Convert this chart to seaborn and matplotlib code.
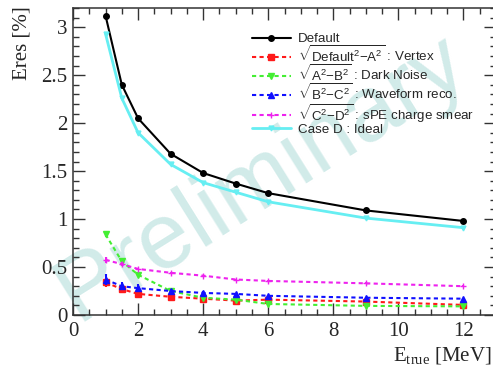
import matplotlib
matplotlib.use("Agg")
import matplotlib.pyplot as plt
import seaborn as sns
import numpy as np
from matplotlib.ticker import MultipleLocator

# ---- data ----
energy = [1, 1.5, 2, 3, 4, 5, 6, 9, 12]
default = [3.12, 2.40, 2.05, 1.68, 1.48, 1.37, 1.27, 1.09, 0.98]
vertex = [0.34, 0.27, 0.22, 0.19, 0.17, 0.15, 0.16, 0.14, 0.105]
vertex_err = [0.05, 0.04, 0.03, 0.02, 0.02, 0.02, 0.02, 0.02, 0.02]
dark = [0.84, 0.56, 0.42, 0.25, 0.18, 0.16, 0.115, 0.095, 0.09]
dark_err = [0.03, 0.02, 0.02, 0.02, 0.02, 0.02, 0.02, 0.02, 0.02]
wave = [0.37, 0.30, 0.28, 0.25, 0.23, 0.22, 0.20, 0.18, 0.17]
wave_err = [0.06, 0.04, 0.04, 0.02, 0.02, 0.01, 0.01, 0.01, 0.01]
spe = [0.575, 0.53, 0.48, 0.44, 0.41, 0.37, 0.355, 0.33, 0.30]
spe_err = [0.03, 0.02, 0.01, 0.01, 0.01, 0.01, 0.01, 0.01, 0.01]
ideal = [2.93, 2.26, 1.90, 1.57, 1.38, 1.28, 1.18, 1.01, 0.91]

labels = [
    "Default",
    r"$\sqrt{\mathrm{Default}^{2}\mathrm{-A}^{2}}$ : Vertex",
    r"$\sqrt{\mathrm{A}^{2}\mathrm{-B}^{2}}$ : Dark Noise",
    r"$\sqrt{\mathrm{B}^{2}\mathrm{-C}^{2}}$ : Waveform reco.",
    r"$\sqrt{\mathrm{C}^{2}\mathrm{-D}^{2}}$ : sPE charge smear",
    "Case D : Ideal",
]

sns.set_style("ticks")
plt.rcParams["font.family"] = ["Liberation Serif", "DejaVu Serif"]
plt.rcParams["mathtext.fontset"] = "custom"
plt.rcParams["mathtext.rm"] = "Liberation Sans"
plt.rcParams["mathtext.it"] = "Liberation Sans:italic"
plt.rcParams["mathtext.bf"] = "Liberation Sans:bold"

W, H = 493, 367
fig = plt.figure(figsize=(W / 100, H / 100), dpi=100)
ax = fig.add_axes([73 / W, 52 / H, 423 / W, 307 / H])

dotted = (0, (2.0, 1.6))
series = [
    (default, None, "black", "o", "-", 1.5, 4.0),
    (vertex, vertex_err, "#ff1a1a", "s", dotted, 1.5, 4.0),
    (dark, dark_err, "#44ee33", "v", dotted, 1.5, 4.0),
    (wave, wave_err, "#1010ff", "^", dotted, 1.5, 4.0),
    (spe, spe_err, "#ee22ee", "+", dotted, 1.5, 5.0),
    (ideal, None, "#66eef2", "v", "-", 2.0, 3.5),
]

for (vals, err, col, mk, ls, lw, ms), lab in zip(series, labels):
    sns.lineplot(x=energy, y=vals, ax=ax, color=col, marker=mk, linestyle=ls,
                 linewidth=lw, markersize=ms, markeredgecolor=col,
                 markeredgewidth=1.0, label=lab, zorder=3)
    if err is not None:
        ax.errorbar(energy, vals, yerr=err, fmt="none", ecolor=col,
                    elinewidth=1.5, capsize=0, zorder=3)

ax.set_xlim(0, 13)
ax.set_ylim(0, 3.2)
ax.xaxis.set_major_locator(MultipleLocator(2))
ax.xaxis.set_minor_locator(MultipleLocator(0.5))
ax.yaxis.set_major_locator(MultipleLocator(0.5))
ax.yaxis.set_minor_locator(MultipleLocator(0.1))
ax.yaxis.set_major_formatter(matplotlib.ticker.FuncFormatter(lambda v, p: ("%g" % v)))
ax.tick_params(which="both", direction="in", top=True, right=True, width=1.0,
               color="#333333", labelsize=15)
ax.tick_params(which="major", length=8.5)
ax.tick_params(which="minor", length=4.5)
ax.tick_params(axis="x", which="major", pad=5)
ax.tick_params(axis="y", which="major", pad=4)
for s in ax.spines.values():
    s.set_linewidth(1.1)
    s.set_color("#333333")
ax.set_xlabel("")
ax.set_ylabel("")

# watermark
ax.text(262 / W, 1 - 178 / H, "Preliminary", transform=fig.transFigure,
        rotation=32, fontsize=67, color="#b3dedb", alpha=0.6,
        family="Liberation Sans", ha="center", va="center", zorder=0.5,
        clip_on=False)

fig.text(22 / W, 1 - 6 / H, "Eres [%]", rotation=90, ha="center", va="top",
         family="Liberation Serif", fontsize=15)
fig.text(492 / W, 6 / H, r"E$_{\mathregular{true}}$ [MeV]", ha="right",
         va="baseline", family="Liberation Serif", fontsize=15)

handles, labs = ax.get_legend_handles_labels()
ax.legend(handles, labs, loc="upper left",
          bbox_to_anchor=(252 / W, 1 - 33 / H), bbox_transform=fig.transFigure,
          frameon=False, borderpad=0, borderaxespad=0, handlelength=2.9,
          handletextpad=0.55, labelspacing=-0.08,
          prop={"family": "Liberation Sans", "size": 9.6})

fig.savefig("out.png", dpi=100)
